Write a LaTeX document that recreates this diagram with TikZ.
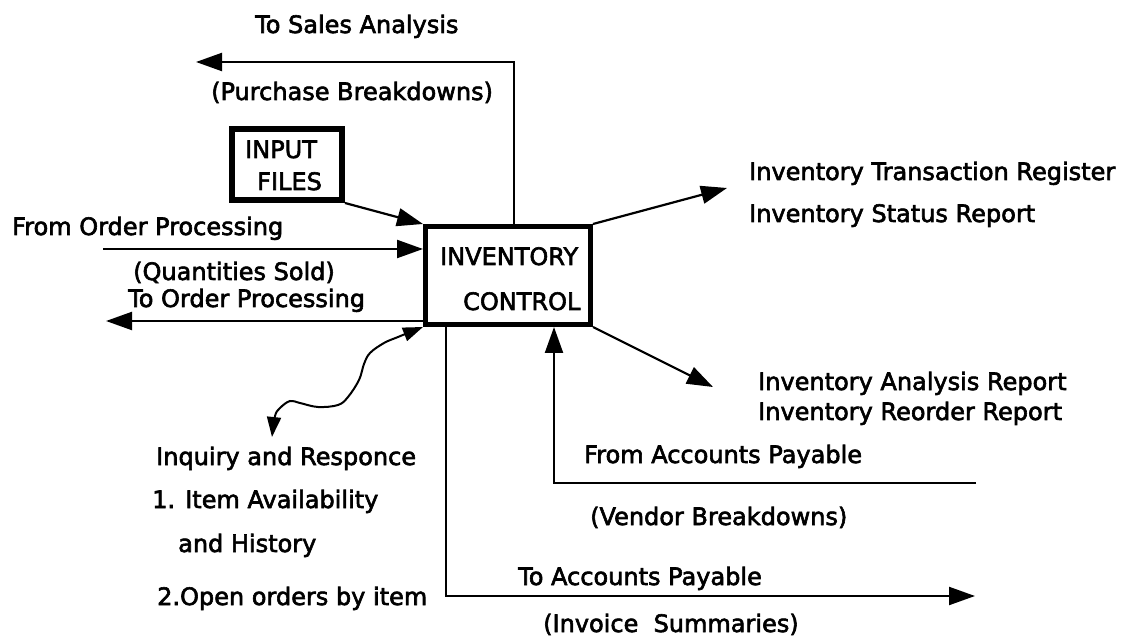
\documentclass[tikz,border=0pt]{standalone}
\usepackage{fontspec}
\setmainfont{DejaVu Sans}
\newfontfamily\lblfont[FakeBold=2.5]{DejaVu Sans}
\usetikzlibrary{arrows.meta}
\begin{document}
\begin{tikzpicture}[x=1pt,y=-1pt,
  lbl/.style={inner sep=0pt, anchor=base west, font=\lblfont\fontsize{24}{28}\selectfont},
  procbox/.style={draw, line width=5pt, inner sep=0pt},
  filebox/.style={draw, line width=6pt, inner sep=0pt},
  flow/.style={line width=2.2pt, line join=miter, -{Triangle[length=26pt,width=18pt]}},
  wavy/.style={line width=2pt, {Triangle[length=20pt,width=14pt]}-{Triangle[length=20pt,width=14pt]}}]
\useasboundingbox (0,0) rectangle (1125,636);

% central process and the file store
\node[procbox, minimum width=165pt, minimum height=98pt] (ic) at (508,275.5) {};
\node[lbl] (icA) at (440,265) {INVENTORY};
\node[lbl] (icB) at (463,310) {CONTROL};

\node[filebox, minimum width=110pt, minimum height=71pt] (files) at (287,164.5) {};
\node[lbl] (filesA) at (245,158) {INPUT};
\node[lbl] (filesB) at (257,190) {FILES};

% free ends of the flows
\coordinate (salesTurn) at (514,62);
\coordinate (salesTip) at (196,62);
\coordinate (fromOP) at (103,249);
\coordinate (toOP) at (106,321);
\coordinate (regTip) at (727,188);
\coordinate (anaTip) at (713,387);
\coordinate (vendEnd) at (976,483);
\coordinate (vendTurn) at (554,483);
\coordinate (apTurn) at (446,596);
\coordinate (apTip) at (975,596);
\coordinate (inqTip) at (272,437);

% flows
\draw[flow] (ic.north -| salesTurn) -- (salesTurn) -- (salesTip);
\draw[flow] (files.south east) -- (ic.north west);
\draw[flow] (fromOP) -- (fromOP -| ic.west);
\draw[flow] (toOP -| ic.west) -- (toOP);
\draw[flow] (ic.north east) -- (regTip);
\draw[flow] (ic.south east) -- (anaTip);
\draw[flow] (vendEnd) -- (vendTurn) -- (vendTurn |- ic.south);
\draw[flow] (ic.south -| apTurn) -- (apTurn) -- (apTip);
\draw[wavy] plot[smooth, tension=0.6] coordinates {(ic.south west) (398,337) (384,343) (370,353) (364,364) (359,380) (348,397) (338,405) (318,407) (300,403) (290,401) (280,408) (275,416) (inqTip)};

% flow labels
\node[lbl] (lSales) at (255,33) {To Sales Analysis};
\node[lbl] (lPurch) at (211,100) {(Purchase Breakdowns)};
\node[lbl] (lFromOP) at (12,235) {From Order Processing};
\node[lbl] (lQty) at (133,280) {(Quantities Sold)};
\node[lbl] (lToOP) at (128,307) {To Order Processing};
\node[lbl] (lReg) at (749,180) {Inventory Transaction Register};
\node[lbl] (lStat) at (749,222) {Inventory Status Report};
\node[lbl] (lAna) at (758,390) {Inventory Analysis Report};
\node[lbl] (lReo) at (758,420) {Inventory Reorder Report};
\node[lbl] (lFromAP) at (584,463) {From Accounts Payable};
\node[lbl] (lVend) at (590,525) {(Vendor Breakdowns)};
\node[lbl] (lToAP) at (518,585) {To Accounts Payable};
\node[lbl] (lInv) at (543,632) {(Invoice\ \ Summaries)};
\node[lbl] (lInq) at (156,465) {Inquiry and Responce};
\node[lbl] (lItem) at (152,508) {1. Item Availability};
\node[lbl] (lHist) at (178,552) {and History};
\node[lbl] (lOpen) at (157,605) {2.Open orders by item};
\end{tikzpicture}
\end{document}
